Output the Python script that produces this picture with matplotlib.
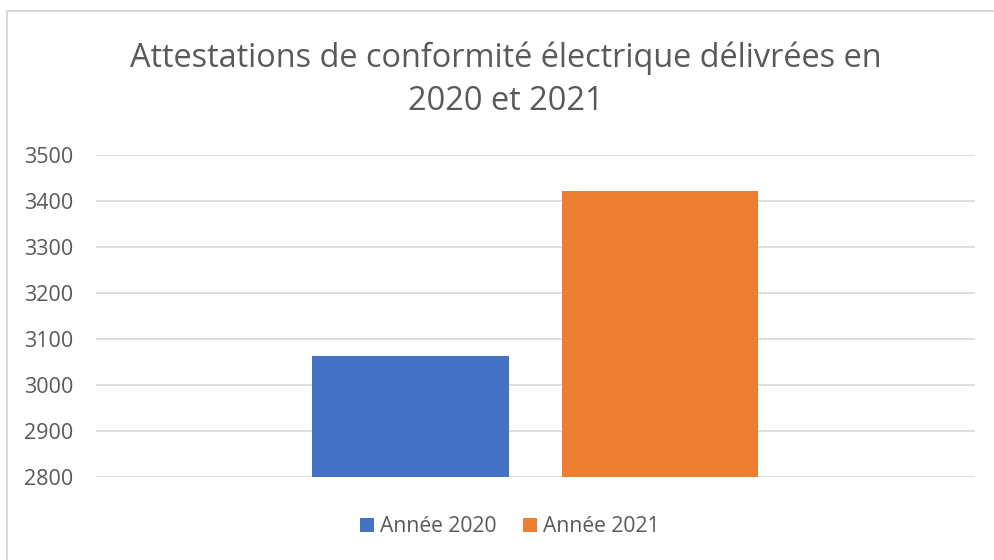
import matplotlib
matplotlib.use("Agg")
import matplotlib.pyplot as plt
from matplotlib.lines import Line2D

title = "Attestations de conformité électrique délivrées en\n2020 et 2021"
series = ["Année 2020", "Année 2021"]
values = [3063, 3422]
colors = ["#4472C4", "#ED7D31"]
yticks = [2800, 2900, 3000, 3100, 3200, 3300, 3400, 3500]

plt.rcParams['font.family'] = ['Open Sans', 'DejaVu Sans']

fig = plt.figure(figsize=(9.95, 5.6), dpi=100)
bx, by = 7.5/995, 1 - 10.5/560
fig.lines.append(Line2D([bx, bx, 1], [0, by, by], transform=fig.transFigure,
                        color="#D9D9D9", linewidth=1.5))
ax = fig.add_axes([96/995, 1 - 477/560, (975 - 96)/995, (477 - 155)/560])

offsets = [-0.142, 0.1416]
width = 0.224
for off, v, c, s in zip(offsets, values, colors, series):
    ax.bar(off, v - yticks[0], bottom=yticks[0], width=width, color=c, label=s, zorder=3)

ax.set_xlim(-0.5, 0.5)
ax.set_ylim(yticks[0], yticks[-1])
ax.set_yticks(yticks)
ax.set_yticklabels([str(t) for t in yticks], fontsize=15.5, color="#595959")
ax.set_xticks([])
ax.tick_params(axis='y', length=0, pad=16.5)
ax.grid(axis='y', color="#D9D9D9", linewidth=1.2, zorder=0)
for sp in ax.spines.values():
    sp.set_visible(False)

fig.text(506/995, 1 - 79.5/560, title, ha='center', va='center', fontsize=23.4,
         color="#595959", linespacing=1.38)

leg = fig.legend(loc='center', bbox_to_anchor=(510/995, 1 - 527/560), ncol=2, frameon=False,
                 fontsize=15.2, handlelength=0.65, handleheight=0.65, handletextpad=0.3,
                 columnspacing=1.25)
for t in leg.get_texts():
    t.set_color("#595959")

fig.savefig("out.png", dpi=100)
